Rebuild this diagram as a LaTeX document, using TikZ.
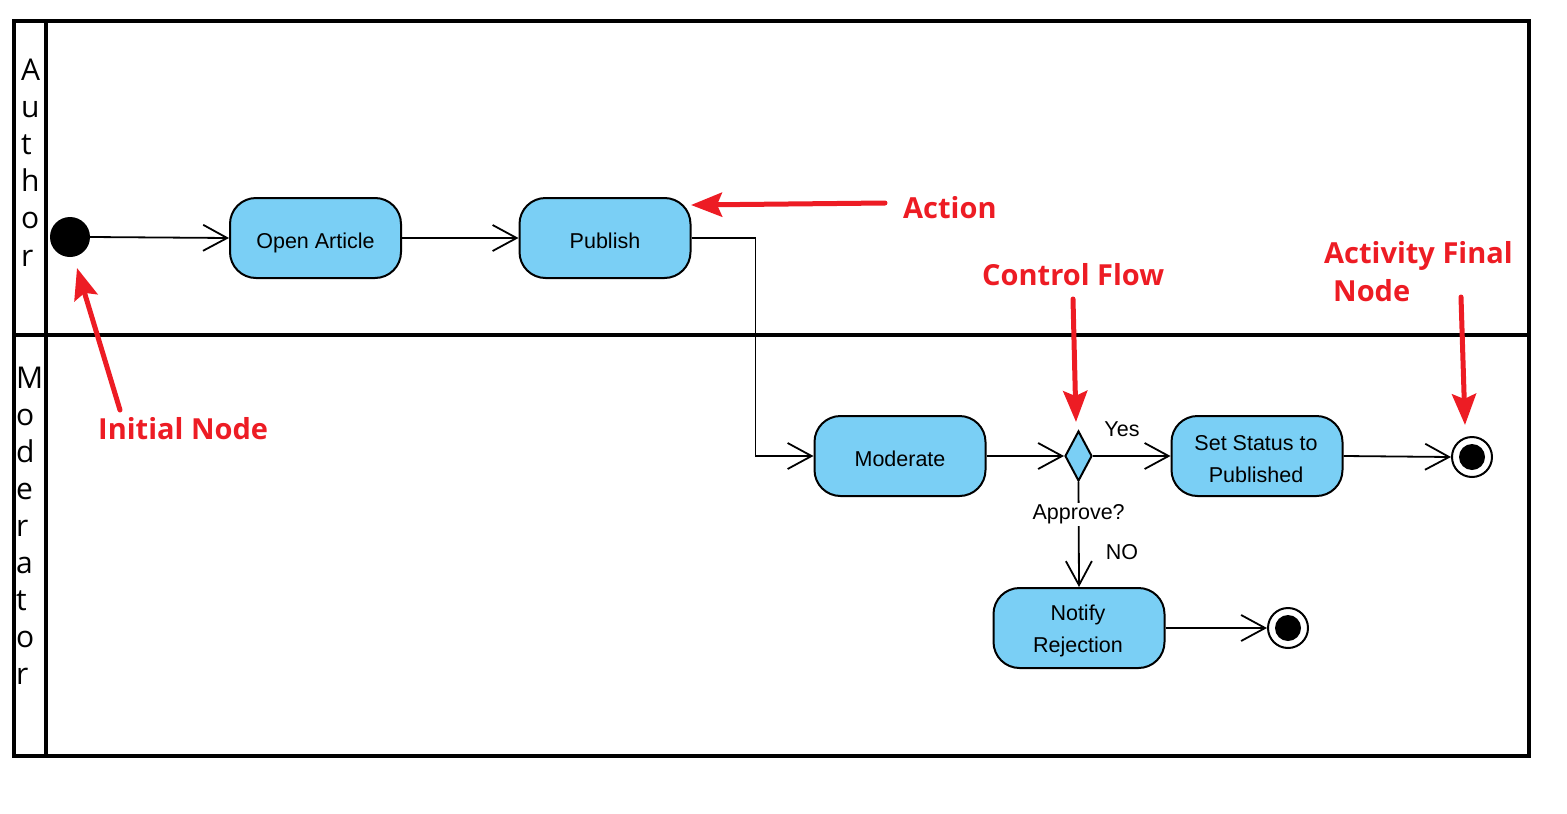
\documentclass[tikz,border=0pt]{standalone}
\usepackage{fontspec}
\setmainfont{Liberation Sans}
\newfontfamily\lanefont{Open Sans}
\newfontfamily\notefont{Open Sans}
\usetikzlibrary{arrows.meta,shapes.geometric}
\definecolor{actblue}{RGB}{122,207,245}
\definecolor{notered}{RGB}{237,28,36}
\tikzset{
  act/.style={draw, line width=2pt, fill=actblue, rounded corners=26pt,
    minimum width=171pt, minimum height=80pt, inner sep=0pt, align=center,
    font=\fontsize{21.5}{31.5}\selectfont, text height=21pt, text depth=0pt},
  acttext/.style={inner sep=0pt, align=center, font=\fontsize{21.5}{32}\selectfont},
  flow/.style={line width=1.8pt, -{Straight Barb[length=24pt,width=26pt,line width=1.8pt]}},
  lbl/.style={font=\fontsize{21.5}{26}\selectfont, inner sep=2pt},
  note/.style={font=\notefont\bfseries\fontsize{29}{34}\selectfont, text=notered, inner sep=0pt},
  notearrow/.style={draw=notered, line width=5pt, line cap=round,
    -{Stealth[length=31pt,width=24pt,inset=5pt]}},
  lane/.style={font=\lanefont\fontsize{30}{36}\selectfont, inner sep=0pt, anchor=base west},
  finalnode/.style={circle, draw, line width=2pt, fill=white, minimum size=40pt, inner sep=0pt},
}
\begin{document}
\begin{tikzpicture}[x=1pt,y=-1pt]
\useasboundingbox (0,0) rectangle (1567,814);
% swimlanes
\draw[line width=4pt] (14,21) rectangle (1529,756);
\draw[line width=4pt] (14,335) -- (1529,335);
\draw[line width=4pt] (46,21) -- (46,756);
\foreach \l [count=\i from 0] in {A,u,t,h,o,r}
  \node[lane] (au\i) at (21,80+37.2*\i) {\l};
\foreach \l [count=\i from 0] in {M,o,d,e,r,a,t,o,r}
  \node[lane] (mo\i) at (16,388+37.1*\i) {\l};
% nodes
\node[circle, fill=black, minimum size=40pt, inner sep=0pt] (init) at (70,237) {};
\node[act] (oa) at (315.5,238) {Open Article};
\node[act] (pub) at (605,238) {Publish};
\node[act] (mod) at (900,456) {Moderate};
\node[diamond, draw, line width=2pt, fill=actblue, minimum width=27pt, minimum height=50pt, inner sep=0pt] (dec) at (1078.5,456) {};
\node[act] (set) at (1257,456) {};
\node[acttext] (settext) at (1256,459) {Set Status to\\Published};
\node[act] (noti) at (1079,628) {};
\node[acttext] (notitext) at (1078,631) {Notify\\Rejection};
\node[finalnode] (fin1) at (1472,457) {};
\fill (fin1.center) circle (13);
\node[finalnode] (fin2) at (1288,628) {};
\fill (fin2.center) circle (13);
% control flows
\draw[flow] (init.east) -- (oa.west);
\draw[flow] (oa.east) -- (pub.west);
\draw[flow] (pub.east) -- ++(64,0) |- (mod.west);
\draw[flow] (mod.east) -- (dec.west);
\draw[flow] (dec.east) -- (set.west);
\draw[flow] (dec.south) -- node[lbl, fill=white, pos=0.31] (appr) {Approve?} (noti.north);
\draw[flow] (set.east) -- (fin1.west);
\draw[flow] (noti.east) -- (fin2.west);
\node[lbl] (yes) at (1122,429) {Yes};
\node[lbl] (no) at (1122,552) {NO};
% annotations
\node[note, anchor=base west] (nAction) at (903,218) {Action};
\node[note, anchor=base west] (nInit) at (98,439) {Initial Node};
\node[note, anchor=base west] (nCtrl) at (982,285) {Control Flow};
\node[note, anchor=base west] (nFin1) at (1324,263) {Activity Final};
\node[note, anchor=base west] (nFin2) at (1333,301) {Node};
\coordinate (aS) at (885,203);
\coordinate (aT) at (691,205);
\coordinate (iS) at (120,410);
\coordinate (iT) at (77,268);
\coordinate (cS) at (1073,299);
\coordinate (cT) at (1076,422);
\coordinate (fS) at (1461,297);
\coordinate (fT) at (1465,425);
\draw[notearrow] (aS) -- (aT);
\draw[notearrow] (iS) -- (iT);
\draw[notearrow] (cS) -- (cT);
\draw[notearrow] (fS) -- (fT);
\end{tikzpicture}
\end{document}
